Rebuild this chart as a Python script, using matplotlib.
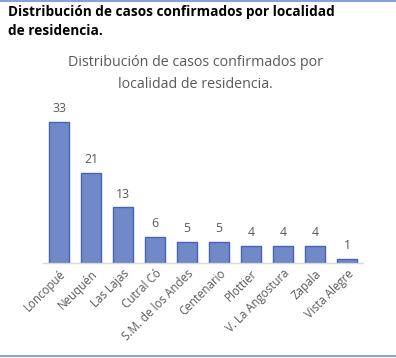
import matplotlib.pyplot as plt
from matplotlib.lines import Line2D

localidades = ["Loncopué", "Neuquén", "Las Lajas", "Cutral Có", "S.M. de los Andes",
               "Centenario", "Plottier", "V. La Angostura", "Zapala", "Vista Alegre"]
casos = [33, 21, 13, 6, 5, 5, 4, 4, 4, 1]

W, H = 396, 358
fig = plt.figure(figsize=(W / 100, H / 100), dpi=100)
fig.patch.set_facecolor("white")

# axes placed in pixel coords: baseline at y=263, x from 43 to 363
left, right, base, top = 43, 363, 263, 109
ax = fig.add_axes([left / W, (H - base) / H, (right - left) / W, (base - top) / H])

ax.bar(range(len(casos)), casos, width=0.62, color="#7188C9",
       edgecolor="#4863B4", linewidth=1.0)
for i, v in enumerate(casos):
    ax.text(i, v + 1.6, str(v), ha="center", va="bottom",
            fontsize=8.8, color="#595959", family="Open Sans")

ax.set_xlim(-0.5, len(casos) - 0.5)
ax.set_ylim(0, 36)
ax.set_xticks(range(len(casos)))
ax.set_xticklabels(localidades, rotation=45, ha="right", rotation_mode="anchor",
                   fontsize=8.3, color="#595959", family="Open Sans")
ax.tick_params(axis="x", length=0, pad=3)
ax.set_yticks([])
for s in ["top", "right", "left"]:
    ax.spines[s].set_visible(False)
ax.spines["bottom"].set_color("#D9D9D9")
ax.spines["bottom"].set_linewidth(1.0)
ax.patch.set_alpha(0)

# header in bold black
fig.text(8 / W, 1 - 12 / H, "Distribución de casos confirmados por localidad",
         ha="left", va="center", fontsize=9.8, fontweight="bold", color="black",
         family="Open Sans")
fig.text(8 / W, 1 - 31 / H, "de residencia.", ha="left", va="center",
         fontsize=9.8, fontweight="bold", color="black", family="Open Sans")

# chart title
fig.text(195 / W, 1 - 63 / H, "Distribución de casos confirmados por", ha="center",
         va="center", fontsize=10.3, color="#595959", family="Open Sans")
fig.text(195 / W, 1 - 84 / H, "localidad de residencia.", ha="center",
         va="center", fontsize=10.3, color="#595959", family="Open Sans")

# blue frame lines top and bottom
fig.add_artist(Line2D([0, 1], [1 - 0.5 / H, 1 - 0.5 / H], color="#7090D0", lw=1.2))
fig.add_artist(Line2D([0, 1], [1 - 356 / H, 1 - 356 / H], color="#7090D0", lw=1.2))

fig.savefig("out.png", dpi=100)
